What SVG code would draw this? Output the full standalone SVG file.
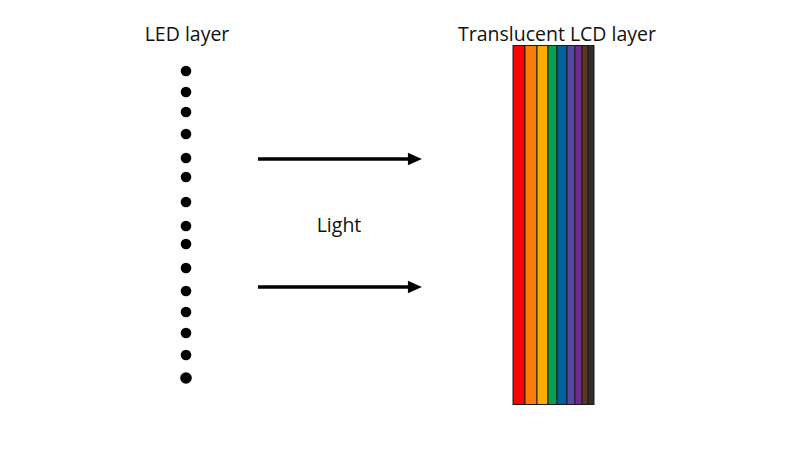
<svg xmlns="http://www.w3.org/2000/svg" width="800" height="450" viewBox="0 0 800 450">
<style>
.t{font-family:"Open Sans","Noto Sans",sans-serif;font-size:19.5px;fill:#111}
.dot{fill:#000}
.s{stroke:#1a1a1a;stroke-width:1}
.arr{stroke:#000;stroke-width:3.5;fill:none;marker-end:url(#ah)}
</style>
<defs>
<marker id="ah" markerWidth="4" markerHeight="4" refX="0.3" refY="2" orient="auto" markerUnits="strokeWidth" overflow="visible">
<path d="M0,0.2 L4,2 L0,3.8 Z" fill="#000"/>
</marker>
</defs>
<rect width="800" height="450" fill="#fff"/>
<g id="led-label"><text class="t" x="187" y="41" text-anchor="middle">LED layer</text></g>
<g id="lcd-label"><text class="t" x="557" y="41" text-anchor="middle">Translucent LCD layer</text></g>
<g id="light-label"><text class="t" x="339" y="232" text-anchor="middle">Light</text></g>
<g id="led-layer">
<circle class="dot" cx="186" cy="71" r="5.3"/>
<circle class="dot" cx="186" cy="92" r="5.3"/>
<circle class="dot" cx="186" cy="112" r="5.3"/>
<circle class="dot" cx="186" cy="134" r="5.3"/>
<circle class="dot" cx="186" cy="158" r="5.3"/>
<circle class="dot" cx="186" cy="177" r="5.3"/>
<circle class="dot" cx="186" cy="202" r="5.3"/>
<circle class="dot" cx="186" cy="226" r="5.3"/>
<circle class="dot" cx="186" cy="244" r="5.3"/>
<circle class="dot" cx="186" cy="268" r="5.3"/>
<circle class="dot" cx="186" cy="291" r="5.3"/>
<circle class="dot" cx="186" cy="312" r="5.3"/>
<circle class="dot" cx="186" cy="333" r="5.3"/>
<circle class="dot" cx="186" cy="355" r="5.3"/>
<circle class="dot" cx="186" cy="378" r="5.8"/>
</g>
<g id="lcd-layer">
<rect class="s" x="513" y="45.5" width="12" height="359" fill="#ff0000"/>
<rect class="s" x="525" y="45.5" width="12" height="359" fill="#fb7d07"/>
<rect class="s" x="537" y="45.5" width="11" height="359" fill="#fbac00"/>
<rect class="s" x="548" y="45.5" width="9" height="359" fill="#05a050"/>
<rect class="s" x="557" y="45.5" width="10" height="359" fill="#00619d"/>
<rect class="s" x="567" y="45.5" width="8" height="359" fill="#5448a0"/>
<rect class="s" x="575" y="45.5" width="7" height="359" fill="#6e2b8b"/>
<rect class="s" x="582" y="45.5" width="6" height="359" fill="#5a3623"/>
<rect class="s" x="588" y="45.5" width="6" height="359" fill="#2f2f2f"/>
</g>
<g id="connectors">
<line class="arr" x1="258" y1="159" x2="409" y2="159"/>
<line class="arr" x1="258" y1="287" x2="409" y2="287"/>
</g>
</svg>
